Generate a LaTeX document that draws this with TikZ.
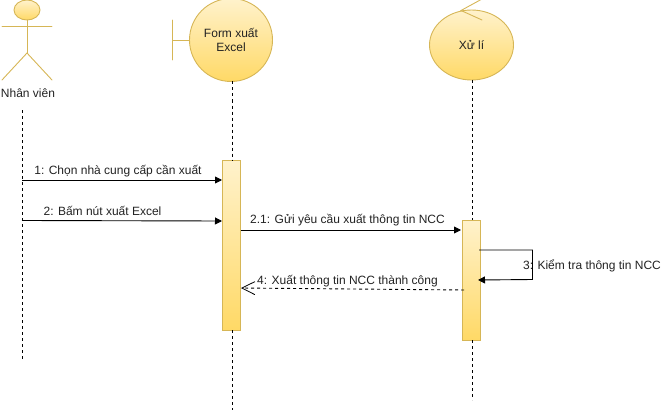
\documentclass[tikz,border=0pt]{standalone}
\usepackage{fontspec}
\setmainfont{Liberation Sans}
\usetikzlibrary{shapes.geometric,arrows.meta}
\definecolor{edgeY}{HTML}{D6B656}
\definecolor{topY}{HTML}{FFF2CC}
\definecolor{botY}{HTML}{FFD966}
\definecolor{inkT}{HTML}{222222}
\tikzset{
  x=1pt,y=-1pt,
  yshade/.style={draw=edgeY,line width=0.9pt,top color=topY,bottom color=botY,middle color=botY!50!topY,shading angle=0},
  actpart/.style={draw=edgeY,line width=0.9pt,line cap=round},
  activation/.style={rectangle,yshade,minimum width=18pt,minimum height=#1,inner sep=0pt,outer sep=0pt},
  lifeline/.style={draw=black,line width=0.9pt,dash pattern=on 3pt off 3pt},
  msg/.style={draw=black,line width=0.9pt,-{Triangle[length=7pt,width=7pt]}},
  ret/.style={draw=black,line width=0.9pt,dash pattern=on 3pt off 3pt,-{Straight Barb[length=13pt,width=13pt,line width=0.8pt]}},
  lab/.style={font=\fontsize{12}{14}\selectfont,text=inkT,inner sep=0pt,anchor=center},
}
\begin{document}
\begin{tikzpicture}
\useasboundingbox (0,0) rectangle (667,412);
\clip (0,0) rectangle (667,412);
% actor
\node[ellipse,yshade,minimum width=26pt,minimum height=20pt,inner sep=0pt,outer sep=0pt] (head) at (27,10) {};
\coordinate (hip) at (27,53);
\coordinate (armL) at (2,26.5);
\coordinate (armR) at (52,26.5);
\coordinate (footL) at (2,80);
\coordinate (footR) at (52,80);
\draw[actpart] (head.south) -- (hip);
\draw[actpart] (armL) -- (armR);
\draw[actpart] (footL) -- (hip) -- (footR);
\node[lab] (actorlabel) at (28,93.5) {Nhân viên};
% boundary
\node[circle,yshade,minimum size=83pt,inner sep=0pt,outer sep=0pt,align=center,font=\fontsize{12}{14}\selectfont,text=inkT] (form) at (231,40) {Form xuất\\Excel};
\coordinate (barT) at (172.5,20);
\coordinate (barB) at (172.5,60);
\coordinate (barM) at (172.5,40);
\draw[actpart] (barT) -- (barB);
\draw[actpart] (barM) -- (form.west);
% control
\node[ellipse,yshade,minimum width=84pt,minimum height=70pt,inner sep=0pt,outer sep=0pt,font=\fontsize{12}{14}\selectfont,text=inkT] (ctrl) at (471.5,45) {Xử lí};
\coordinate (tipC) at (461,10.5);
\coordinate (tipU) at (482,-1);
\coordinate (tipD) at (482,20);
\draw[actpart] (tipU) -- (tipC) -- (tipD);
% activations
\node[activation=170pt] (actA) at (231,245) {};
\node[activation=120pt] (actB) at (471,280) {};
% lifelines
\coordinate (l1a) at (22,110);
\coordinate (l1b) at (22,360);
\coordinate (l2b) at (232,410);
\coordinate (l3b) at (472,400);
\draw[lifeline] (l1a) -- (l1b);
\draw[lifeline] (form.south -| l2b) -- (actA.north -| l2b);
\draw[lifeline] (actA.south -| l2b) -- (l2b);
\draw[lifeline] (ctrl.south -| l3b) -- (actB.north -| l3b);
\draw[lifeline] (actB.south -| l3b) -- (l3b);
% messages
\coordinate (m1s) at (22,180);
\coordinate (m1e) at (222,180);
\coordinate (m2s) at (22,220.5);
\coordinate (m2e) at (222,221);
\coordinate (m3s) at (240.5,230);
\coordinate (m3e) at (461,230);
\coordinate (m4s) at (479,250);
\coordinate (m4a) at (532.5,250);
\coordinate (m4b) at (532.5,279.5);
\coordinate (m4e) at (478,280);
\coordinate (m5s) at (464,290);
\coordinate (m5e) at (241,288);
\draw[msg] (m1s) -- (m1e);
\draw[msg] (m2s) -- (m2e);
\draw[msg] (m3s) -- (m3e);
\draw[msg] (m4s) -- (m4a) -- (m4b) -- (m4e);
\draw[ret] (m5s) -- (m5e);
% labels
\node[lab] (t1) at (118,171) {1: Chọn nhà cung cấp cần xuất};
\node[lab] (t2) at (102.5,211) {2: Bấm nút xuất Excel};
\node[lab] (t3) at (347.5,220.5) {2.1: Gửi yêu cầu xuất thông tin NCC};
\node[lab] (t4) at (592,266) {3: Kiểm tra thông tin NCC};
\node[lab] (t5) at (347.5,281) {4: Xuất thông tin NCC thành công};
\end{tikzpicture}
\end{document}
